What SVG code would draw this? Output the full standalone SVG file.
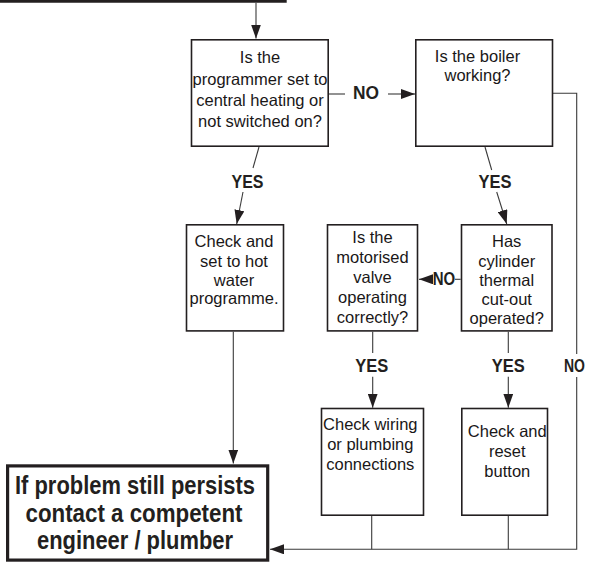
<svg xmlns="http://www.w3.org/2000/svg" width="589" height="563" viewBox="0 0 589 563">
<style>
.box{fill:#fff;stroke:#231f20;stroke-width:1.6}
.final{fill:#fff;stroke:#231f20;stroke-width:3.2}
.c{fill:none;stroke:#3a3a3a;stroke-width:1.1}
.t{font-family:"Liberation Sans",Arial,sans-serif;font-size:16.5px;fill:#1a1718;text-anchor:middle}
.l{font-family:"Liberation Sans",Arial,sans-serif;font-size:18px;font-weight:bold;fill:#231f20;text-anchor:middle}
.big{font-family:"Liberation Sans",Arial,sans-serif;font-size:26px;font-weight:bold;fill:#231f20;text-anchor:middle}
</style>
<defs>
<marker id="ah" markerUnits="userSpaceOnUse" markerWidth="14" markerHeight="10" refX="14" refY="5" orient="auto">
<path d="M0,0 L14,5 L0,10 z" fill="#231f20"/>
</marker>
</defs>
<line x1="0" y1="1.3" x2="286.7" y2="1.3" stroke="#231f20" stroke-width="2.8"/>
<g id="connectors">
<line class="c" x1="256" y1="2.7" x2="256" y2="38.5" marker-end="url(#ah)"/>
<line class="c" x1="329" y1="94" x2="345" y2="94"/>
<line class="c" x1="388" y1="94" x2="415" y2="94" marker-end="url(#ah)"/>
<line class="c" x1="259" y1="147" x2="253" y2="168"/>
<line class="c" x1="243" y1="192" x2="236.7" y2="224" marker-end="url(#ah)"/>
<line class="c" x1="485" y1="147" x2="491.7" y2="170"/>
<line class="c" x1="496.7" y1="192" x2="506.7" y2="224" marker-end="url(#ah)"/>
<line class="c" x1="460.7" y1="279.3" x2="455" y2="279.3"/>
<line class="c" x1="432" y1="279.3" x2="419" y2="279.3" marker-end="url(#ah)"/>
<line class="c" x1="372.7" y1="331.7" x2="372.7" y2="353"/>
<line class="c" x1="372.7" y1="376.7" x2="372.7" y2="407.7" marker-end="url(#ah)"/>
<line class="c" x1="508.3" y1="331.7" x2="508.3" y2="353"/>
<line class="c" x1="508.3" y1="376.7" x2="508.3" y2="407.7" marker-end="url(#ah)"/>
<line class="c" x1="233.3" y1="331.7" x2="233.3" y2="463.5" marker-end="url(#ah)"/>
<line class="c" x1="371.7" y1="516" x2="371.7" y2="549.3"/>
<line class="c" x1="508.3" y1="516" x2="508.3" y2="549.3"/>
<path class="c" d="M553,93.3 H576.7 V354"/>
<path class="c" d="M576.7,377 V549.3 H270" marker-end="url(#ah)"/>
<text class="l" x="366" y="98.5" textLength="26" lengthAdjust="spacingAndGlyphs">NO</text>
<text class="l" x="247.5" y="188.3" textLength="32" lengthAdjust="spacingAndGlyphs">YES</text>
<text class="l" x="495" y="188.3" textLength="33" lengthAdjust="spacingAndGlyphs">YES</text>
<text class="l" x="444" y="285" font-size="16" textLength="22.5" lengthAdjust="spacingAndGlyphs">NO</text>
<text class="l" x="371.7" y="371.7" textLength="33" lengthAdjust="spacingAndGlyphs">YES</text>
<text class="l" x="508.3" y="371.7" textLength="33" lengthAdjust="spacingAndGlyphs">YES</text>
<text class="l" x="574.5" y="371.7" font-size="15.5" textLength="21" lengthAdjust="spacingAndGlyphs">NO</text>
</g>
<g id="q-programmer">
<rect class="box" x="191.5" y="39.8" width="136.7" height="106.4"/>
<text class="t" x="260" y="63.3">Is the</text>
<text class="t" x="260" y="85">programmer set to</text>
<text class="t" x="260" y="106">central heating or</text>
<text class="t" x="260" y="126.7">not switched on?</text>
</g>
<g id="q-boiler">
<rect class="box" x="415.8" y="39.8" width="136.7" height="106.4"/>
<text class="t" x="477.5" y="62">Is the boiler</text>
<text class="t" x="477.5" y="80.5">working?</text>
</g>
<g id="a-hotwater">
<rect class="box" x="186.5" y="224.8" width="97" height="106.1"/>
<text class="t" x="234" y="247.3">Check and</text>
<text class="t" x="234" y="266.5">set to hot</text>
<text class="t" x="234" y="285.5">water</text>
<text class="t" x="234" y="304">programme.</text>
</g>
<g id="q-valve">
<rect class="box" x="327.5" y="224.8" width="90" height="106.1"/>
<text class="t" x="372.5" y="243.3">Is the</text>
<text class="t" x="372.5" y="263.3">motorised</text>
<text class="t" x="372.5" y="283.3">valve</text>
<text class="t" x="372.5" y="303.3">operating</text>
<text class="t" x="372.5" y="323.3">correctly?</text>
</g>
<g id="q-cylinder">
<rect class="box" x="461.5" y="224.8" width="90.5" height="106.1"/>
<text class="t" x="506.7" y="247.3">Has</text>
<text class="t" x="506.7" y="266.5">cylinder</text>
<text class="t" x="506.7" y="285.5">thermal</text>
<text class="t" x="506.7" y="304.5">cut-out</text>
<text class="t" x="506.7" y="324">operated?</text>
</g>
<g id="a-wiring">
<rect class="box" x="321.5" y="408.5" width="102" height="106.7"/>
<text class="t" x="370.3" y="430">Check wiring</text>
<text class="t" x="370.3" y="450">or plumbing</text>
<text class="t" x="370.3" y="470">connections</text>
</g>
<g id="a-reset">
<rect class="box" x="461.8" y="408.5" width="85.7" height="106.7"/>
<text class="t" x="507.3" y="436.7">Check and</text>
<text class="t" x="507.3" y="456.7">reset</text>
<text class="t" x="507.3" y="476.7">button</text>
</g>
<g id="final">
<rect class="final" x="7.6" y="465.9" width="260.1" height="94.2"/>
<text class="big" x="135" y="494" textLength="240" lengthAdjust="spacingAndGlyphs">If problem still persists</text>
<text class="big" x="134" y="521.5" textLength="217" lengthAdjust="spacingAndGlyphs">contact a competent</text>
<text class="big" x="135" y="548.5" textLength="196" lengthAdjust="spacingAndGlyphs">engineer / plumber</text>
</g>
</svg>
